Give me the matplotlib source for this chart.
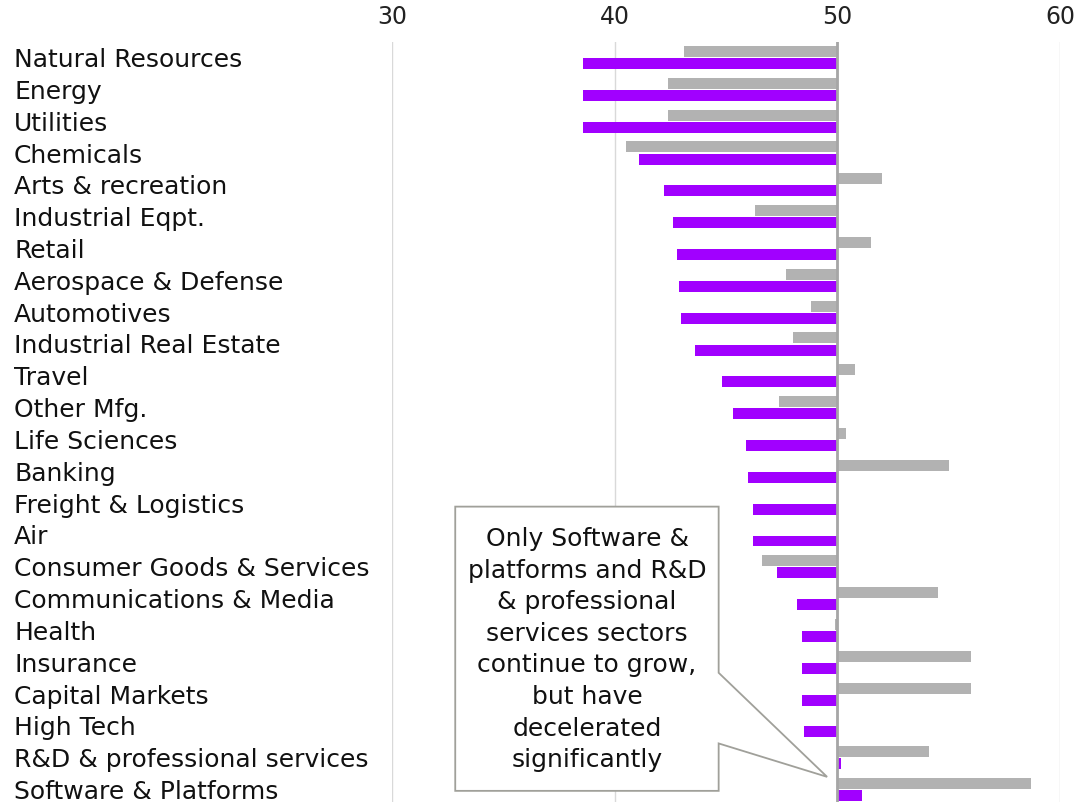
import matplotlib.pyplot as plt
import numpy as np
from matplotlib.patches import Polygon

plt.rcParams['font.family'] = ['DejaVu Sans']

sectors = ['Natural Resources', 'Energy', 'Utilities', 'Chemicals', 'Arts & recreation',
           'Industrial Eqpt.', 'Retail', 'Aerospace & Defense', 'Automotives',
           'Industrial Real Estate', 'Travel', 'Other Mfg.', 'Life Sciences', 'Banking',
           'Freight & Logistics', 'Air', 'Consumer Goods & Services',
           'Communications & Media', 'Health', 'Insurance', 'Capital Markets',
           'High Tech', 'R&D & professional services', 'Software & Platforms']
prev = [43.1, 42.4, 42.4, 40.5, 52.0, 46.3, 51.5, 47.7, 48.8, 48.0, 50.8, 47.4,
        50.4, 55.0, 50.0, 50.0, 46.6, 54.5, 49.9, 56.0, 56.0, 50.0, 54.1, 58.7]
curr = [38.6, 38.6, 38.6, 41.1, 42.2, 42.6, 42.8, 42.9, 43.0, 43.6, 44.8, 45.3,
        45.9, 46.0, 46.2, 46.2, 47.3, 48.2, 48.4, 48.4, 48.4, 48.5, 50.15, 51.1]
ticks = [30, 40, 50, 60]
note = ("Only Software &\nplatforms and R&D\n& professional\nservices sectors\n"
        "continue to grow,\nbut have\ndecelerated\nsignificantly")

purple = '#A100FF'
grey = '#B2B2B2'
base = 50

fig = plt.figure(figsize=(10.82, 8.02), dpi=100)
ax = fig.add_axes([392 / 1082, 0, (1060 - 392) / 1082, 1 - 41.6 / 802])

y = np.arange(len(sectors))
ax.barh(y - 0.19, np.array(prev) - base, left=base, height=0.345, color=grey, zorder=2)
ax.barh(y + 0.19, np.array(curr) - base, left=base, height=0.345, color=purple, zorder=2)
ax.axvline(base, color='#A6A6A6', lw=2, zorder=3)

ax.set_xlim(30, 60)
ax.set_ylim(23.39, -0.5)
ax.set_xticks(ticks)
ax.xaxis.tick_top()
ax.tick_params(axis='x', length=0, pad=9, labelsize=17, labelcolor='#222222')
ax.grid(axis='x', color='#D9D9D9', lw=1, zorder=0)
ax.set_yticks(y)
ax.set_yticklabels(sectors, ha='left', fontsize=18, color='#111111')
ax.tick_params(axis='y', length=0, pad=(392 - 14) * 0.72)
for s in ax.spines.values():
    s.set_visible(False)

# callout box with tail pointing at the bottom two sectors
callout = [(32.84, 14.11), (44.67, 14.11), (44.67, 19.33), (49.54, 22.6),
           (44.67, 21.55), (44.67, 23.04), (32.84, 23.04)]
ax.add_patch(Polygon(callout, closed=True, facecolor='white', edgecolor='#A0A09A',
                     lw=1.3, zorder=4))
ax.text(38.76, 18.6, note, ha='center', va='center', fontsize=18,
        color='#111111', linespacing=1.4, zorder=5)

fig.savefig('out.png', dpi=100)
